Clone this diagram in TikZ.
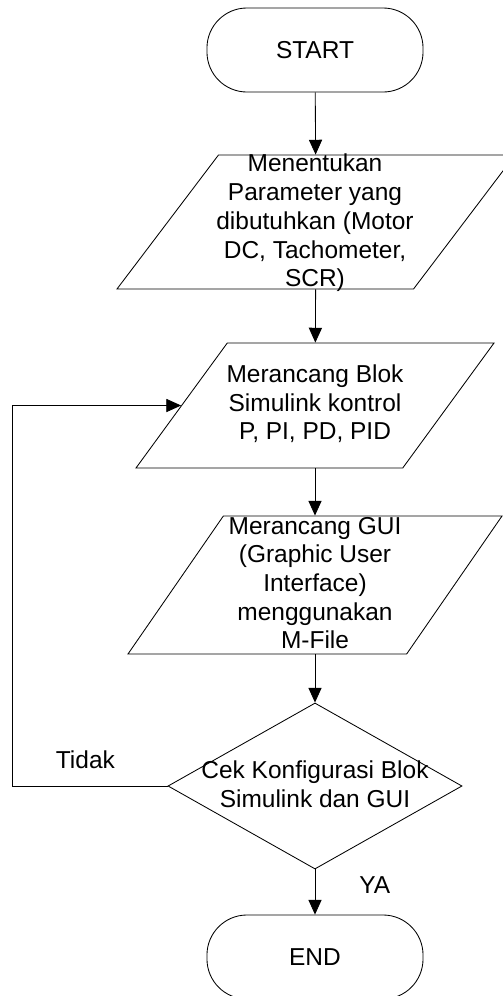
\documentclass[tikz,border=0pt]{standalone}
\usepackage{fontspec}
\setmainfont{Liberation Sans}
\usetikzlibrary{shapes.geometric, arrows.meta}
\tikzset{
  terminal/.style={
    rectangle,
    draw=black,
    line width=0.6pt,
    rounded corners=1cm,
    minimum width=5.4cm,
    minimum height=2.1cm
  },
  io/.style={
    trapezium,
    trapezium stretches=true,
    trapezium left angle=62.5,
    trapezium right angle=117.5,
    draw=black,
    line width=0.6pt,
    inner sep=1pt
  },
  decision/.style={
    diamond,
    draw=black,
    line width=0.6pt,
    inner sep=1pt,
    minimum width=7.35cm,
    minimum height=4.15cm
  },
  boxtext/.style={align=center, inner sep=0pt}
}
\tikzstyle{arrow} = [-{Triangle[length=0.37cm, width=0.33cm]}, line width=0.6pt]
\def\flowfont{\fontsize{17.4}{20.4}\selectfont}

\begin{document}
\begin{tikzpicture}[x=0.025cm, y=-0.025cm, font=\flowfont]
    \useasboundingbox (0, 0) rectangle (502, 996);
    \node[terminal] (start) at (315, 50) {START};
    \node[io, minimum width=9.95cm, minimum height=3.35cm] (param) at (316, 222) {};
    \node[boxtext] (paramtxt) at (315, 223) {Menentukan\\Parameter yang\\dibutuhkan (Motor\\DC, Tachometer,\\SCR)};
    \node[io, minimum width=8.95cm, minimum height=3.125cm] (blok) at (315, 405.5) {};
    \node[boxtext] (bloktxt) at (315, 404) {Merancang Blok\\Simulink kontrol\\P, PI, PD, PID};
    \node[io, minimum width=9.35cm, minimum height=3.45cm] (gui) at (315, 585) {};
    \node[boxtext] (guitxt) at (315, 583) {Merancang GUI\\(Graphic User\\Interface)\\menggunakan\\M-File};
    \node[decision] (cek) at (315, 786) {};
    \node[boxtext] (cektxt) at (315, 784) {Cek Konfigurasi Blok\\Simulink dan GUI};
    \node[terminal] (end) at (315, 957) {END};
    \draw[arrow] (start) to (param);
    \draw[arrow] (param) to (blok);
    \draw[arrow] (blok) to (gui);
    \draw[arrow] (gui) to (cek);
    \draw[arrow] (cek) to node [pos=0.35, right=28pt] {YA} (end);
    \draw[arrow] (cek.west) -- ++(-155, 0) node [pos=0.53, above=9pt] {Tidak} |- (blok.west);
  \end{tikzpicture}
\end{document}
